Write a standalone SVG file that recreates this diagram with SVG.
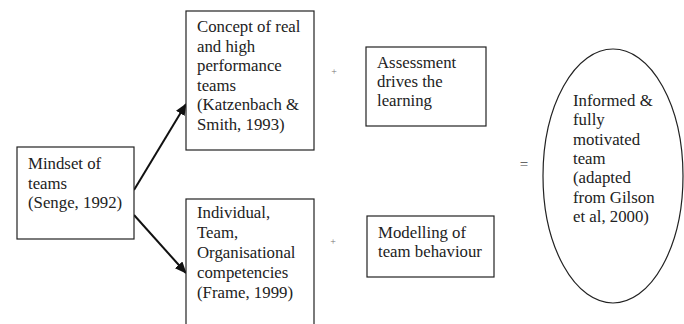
<svg xmlns="http://www.w3.org/2000/svg" width="684" height="324" viewBox="0 0 684 324">
<style>
.box{fill:#fff;stroke:#222;stroke-width:1.2}
.t{font-family:"Liberation Serif","Times New Roman",serif;font-size:16.8px;fill:#222}
.op{font-family:"Liberation Serif","Times New Roman",serif;fill:#777}
.conn{stroke:#111;stroke-width:2;fill:none}
</style>
<defs>
<marker id="ah" markerWidth="12" markerHeight="10" refX="11" refY="5" orient="auto" markerUnits="userSpaceOnUse">
<path d="M0,0 L12,5 L0,10 Z" fill="#111"/>
</marker>
</defs>
<rect width="684" height="324" fill="#fff"/>
<g id="connectors">
<line class="conn" x1="134" y1="190" x2="186" y2="104" marker-end="url(#ah)"/>
<line class="conn" x1="134" y1="215" x2="186" y2="273" marker-end="url(#ah)"/>
</g>
<g id="mindset">
<rect class="box" x="17" y="147" width="117" height="92"/>
<text class="t" x="28" y="169">Mindset of</text>
<text class="t" x="28" y="188.5">teams</text>
<text class="t" x="28" y="208">(Senge, 1992)</text>
</g>
<g id="concept">
<rect class="box" x="186" y="11" width="128" height="139"/>
<text class="t" x="197" y="32">Concept of real</text>
<text class="t" x="197" y="51.5">and high</text>
<text class="t" x="197" y="71">performance</text>
<text class="t" x="197" y="90.5">teams</text>
<text class="t" x="197" y="110">(Katzenbach &amp;</text>
<text class="t" x="197" y="129.5">Smith, 1993)</text>
</g>
<g id="competencies">
<rect class="box" x="186" y="199" width="128" height="130"/>
<text class="t" x="197" y="218">Individual,</text>
<text class="t" x="197" y="238">Team,</text>
<text class="t" x="197" y="258">Organisational</text>
<text class="t" x="197" y="278">competencies</text>
<text class="t" x="197" y="298">(Frame, 1999)</text>
</g>
<g id="plus1"><text class="op" x="334" y="75" font-size="10" text-anchor="middle">+</text></g>
<g id="plus2"><text class="op" x="333" y="245" font-size="10" text-anchor="middle">+</text></g>
<g id="assessment">
<rect class="box" x="366" y="47" width="120" height="79"/>
<text class="t" x="377" y="68">Assessment</text>
<text class="t" x="377" y="87">drives the</text>
<text class="t" x="377" y="106">learning</text>
</g>
<g id="modelling">
<rect class="box" x="367" y="216" width="127" height="61"/>
<text class="t" x="378" y="238">Modelling of</text>
<text class="t" x="378" y="257">team behaviour</text>
</g>
<g id="equals"><text class="op" x="524" y="169" font-size="15" fill="#444" text-anchor="middle" style="fill:#444">=</text></g>
<g id="outcome">
<ellipse class="box" cx="613" cy="176" rx="70" ry="127"/>
<text class="t" x="573" y="106">Informed &amp;</text>
<text class="t" x="573" y="125.3">fully</text>
<text class="t" x="573" y="144.6">motivated</text>
<text class="t" x="573" y="164">team</text>
<text class="t" x="573" y="183.3">(adapted</text>
<text class="t" x="573" y="202.6">from Gilson</text>
<text class="t" x="573" y="222">et al, 2000)</text>
</g>
</svg>
